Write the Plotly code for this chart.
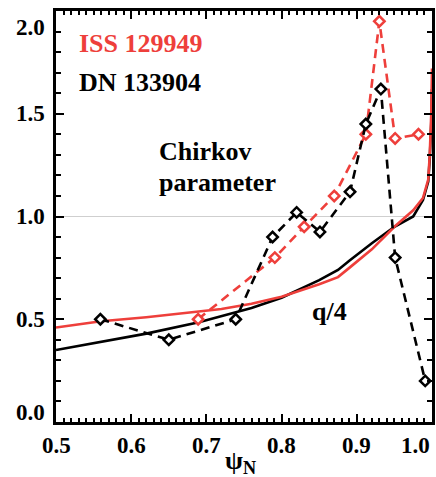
import plotly.graph_objects as go

# Chirikov parameter profiles (diamonds, dashed)
iss_psi = [0.689, 0.791, 0.830, 0.870, 0.912, 0.930, 0.951, 0.982]
iss_chirikov = [0.50, 0.80, 0.95, 1.10, 1.40, 1.95, 1.38, 1.40]

dn_psi = [0.559, 0.650, 0.739, 0.788, 0.820, 0.851, 0.891, 0.912, 0.932, 0.951, 0.991]
dn_chirikov = [0.50, 0.40, 0.50, 0.90, 1.02, 0.925, 1.12, 1.45, 1.62, 0.80, 0.20]

# Safety-factor profiles q/4 (solid)
q_psi = [0.50, 0.56, 0.62, 0.69, 0.72, 0.76, 0.80, 0.85, 0.875, 0.89, 0.92,
         0.95, 0.975, 0.988, 0.995, 0.997, 0.999, 1.0]
q4_iss = [0.46, 0.49, 0.51, 0.54, 0.55, 0.575, 0.61, 0.67, 0.705, 0.75, 0.84,
          0.95, 1.03, 1.09, 1.18, 1.30, 1.50, 1.72]
q4_dn = [0.35, 0.39, 0.43, 0.485, 0.515, 0.555, 0.605, 0.69, 0.74, 0.785, 0.87,
         0.95, 1.00, 1.08, 1.17, 1.28, 1.45, 1.62]

# Axis ranges, tick values and labels
X_RANGE = [0.5, 1.0]
Y_RANGE = [0.0, 2.0]
x_tick_vals = [0.5, 0.6, 0.7, 0.8, 0.9, 1.0]
x_tick_labels = ["0.5", "0.6", "0.7", "0.8", "0.9", "1.0"]
y_tick_vals = [0.0, 0.5, 1.0, 1.5, 2.0]
y_tick_labels = ["0.0", "0.5", "1.0", "1.5", "2.0"]

RED = "#ee3f3b"
BLACK = "#000000"
FONT = "Liberation Serif"


def tfont():
    return dict(family=FONT, size=23, color="black", weight="bold")


def lfont(color):
    return dict(family=FONT, size=26, color=color, weight="bold")


fig = go.Figure(data=[
    go.Scatter(x=q_psi, y=q4_dn, mode="lines",
               line=dict(color=BLACK, width=2.6), showlegend=False),
    go.Scatter(x=q_psi, y=q4_iss, mode="lines",
               line=dict(color=RED, width=2.6), showlegend=False),
    go.Scatter(x=iss_psi, y=iss_chirikov, mode="lines+markers",
               line=dict(color=RED, width=2.6, dash="9px,6px"),
               marker=dict(symbol="diamond", size=8, color="white",
                           line=dict(color=RED, width=2.5)),
               showlegend=False),
    go.Scatter(x=dn_psi, y=dn_chirikov, mode="lines+markers",
               line=dict(color=BLACK, width=2.6, dash="9px,6px"),
               marker=dict(symbol="diamond", size=8, color="white",
                           line=dict(color=BLACK, width=2.5)),
               showlegend=False),
])

fig.update_layout(
    width=436, height=477,
    margin=dict(l=56, r=1, t=11, b=55),
    paper_bgcolor="white", plot_bgcolor="white",
    xaxis=dict(range=X_RANGE, tickmode="array", tickvals=x_tick_vals,
               showticklabels=False,
               showline=True, linewidth=3, linecolor="black", mirror="allticks",
               ticks="inside", ticklen=8, tickwidth=2, tickcolor="black",
               minor=dict(dtick=0.01, ticks="inside", ticklen=4),
               showgrid=False, zeroline=False),
    yaxis=dict(range=Y_RANGE, tickmode="array", tickvals=y_tick_vals,
               showticklabels=False,
               showline=True, linewidth=3, linecolor="black", mirror="allticks",
               ticks="inside", ticklen=8, tickwidth=2, tickcolor="black",
               minor=dict(dtick=0.1, ticks="inside", ticklen=5),
               showgrid=False, zeroline=False),
)

fig.add_shape(type="line", xref="paper", yref="paper", x0=0, x1=1,
              y0=(1.0 - Y_RANGE[0]) / (Y_RANGE[1] - Y_RANGE[0]),
              y1=(1.0 - Y_RANGE[0]) / (Y_RANGE[1] - Y_RANGE[0]),
              line=dict(color="#cfcfcf", width=1), layer="below")

# x tick labels; the last one is pulled left so it stays on the page
for v, t in zip(x_tick_vals, x_tick_labels):
    fig.add_annotation(text=t, xref="paper", yref="paper",
                       x=(v - X_RANGE[0]) / (X_RANGE[1] - X_RANGE[0]), y=0,
                       xanchor="center", yanchor="top",
                       xshift=-17 if v == x_tick_vals[-1] else 0, yshift=-9,
                       showarrow=False, font=tfont())
# y tick labels; the end ones are pulled inside the frame
for v, t in zip(y_tick_vals, y_tick_labels):
    shift = 0
    if v == y_tick_vals[0]:
        shift = 10
    elif v == y_tick_vals[-1]:
        shift = -16
    fig.add_annotation(text=t, xref="paper", yref="paper", x=0,
                       y=(v - Y_RANGE[0]) / (Y_RANGE[1] - Y_RANGE[0]),
                       xanchor="right", yanchor="middle", xshift=-9,
                       yshift=shift, showarrow=False, font=tfont())

# axis title (psi as an HTML entity, N as subscript)
fig.add_annotation(text="&#968;<sub>N</sub>", xref="paper", yref="paper", x=0.49, y=0,
                   xanchor="center", yanchor="top", yshift=-22, showarrow=False,
                   font=lfont("black"))
# series labels
fig.add_annotation(text="ISS 129949", xref="paper", yref="paper", x=21 / 379,
                   y=1 - 32 / 411, xanchor="left", yanchor="middle",
                   showarrow=False, font=lfont(RED))
fig.add_annotation(text="DN 133904", xref="paper", yref="paper", x=21 / 379,
                   y=1 - 71 / 411, xanchor="left", yanchor="middle",
                   showarrow=False, font=lfont(BLACK))
fig.add_annotation(text="Chirkov", xref="paper", yref="paper", x=102 / 379,
                   y=1 - 140 / 411, xanchor="left", yanchor="middle",
                   showarrow=False, font=lfont(BLACK))
fig.add_annotation(text="parameter", xref="paper", yref="paper", x=102 / 379,
                   y=1 - 172 / 411, xanchor="left", yanchor="middle",
                   showarrow=False, font=lfont(BLACK))
fig.add_annotation(text="q/4", xref="paper", yref="paper", x=256 / 379,
                   y=1 - 300 / 411, xanchor="left", yanchor="middle",
                   showarrow=False, font=lfont(BLACK))

fig.write_html("out.html")
